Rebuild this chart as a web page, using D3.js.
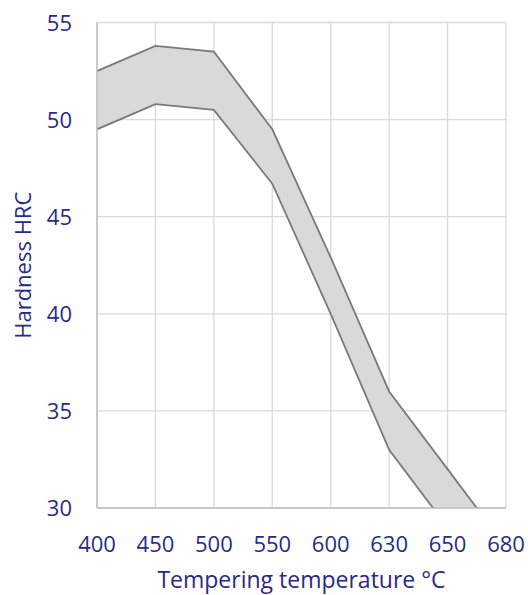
<!DOCTYPE html>
<html><head><meta charset="utf-8">
<script src="https://cdn.jsdelivr.net/npm/d3@7"></script>
<style>body{margin:0;background:#fff}svg{display:block}text{font-family:"Open Sans",sans-serif;fill:#2a2a86}</style>
</head><body>
<svg id="c" width="528" height="595"></svg>
<script>
const categories = ["400","450","500","550","600","630","650","680"];
const upper = [52.5, 53.8, 53.5, 49.5, 42.9, 36.0, 32.0, 28.0];
const lower = [49.5, 50.8, 50.5, 46.7, 40.0, 33.0, 29.0, 25.0];
const yTicks = [30, 35, 40, 45, 50, 55];

const svg = d3.select("#c");
const m = {l:97, r:506, t:22.5, b:508};
const x = d3.scalePoint().domain(categories).range([m.l, m.r]);
const y = d3.scaleLinear().domain([30, 55]).range([m.b, m.t]);

// grid
svg.append("g").selectAll("line").data(yTicks).join("line")
  .attr("x1", m.l).attr("x2", m.r).attr("y1", d=>y(d)).attr("y2", d=>y(d))
  .attr("stroke", "#d9d9d9").attr("stroke-width", 1.3);
svg.append("g").selectAll("line").data(categories).join("line")
  .attr("x1", d=>x(d)).attr("x2", d=>x(d)).attr("y1", m.t).attr("y2", m.b)
  .attr("stroke", "#d9d9d9").attr("stroke-width", 1.3);

svg.append("clipPath").attr("id","clip").append("rect")
  .attr("x", m.l).attr("y", m.t).attr("width", m.r-m.l).attr("height", m.b-m.t);

const data = categories.map((c,i)=>({c, u:upper[i], l:lower[i]}));
const g = svg.append("g").attr("clip-path","url(#clip)");
g.append("path").datum(data)
  .attr("d", d3.area().x(d=>x(d.c)).y0(d=>y(d.l)).y1(d=>y(d.u)))
  .attr("fill", "#d9d9d9");
["u","l"].forEach(k=>{
  g.append("path").datum(data)
    .attr("d", d3.line().x(d=>x(d.c)).y(d=>y(d[k])))
    .attr("fill","none").attr("stroke","#7a7a7a").attr("stroke-width",1.8);
});

// axis lines
svg.append("line").attr("x1", m.l).attr("x2", m.l).attr("y1", m.t).attr("y2", m.b)
  .attr("stroke","#bfbfbf").attr("stroke-width",1.5);
svg.append("line").attr("x1", m.l).attr("x2", m.r).attr("y1", m.b).attr("y2", m.b)
  .attr("stroke","#bfbfbf").attr("stroke-width",1.5);

// tick labels
svg.append("g").selectAll("text").data(yTicks).join("text")
  .attr("x", 72).attr("y", d=>y(d)+8).attr("text-anchor","end")
  .attr("font-size", 22).text(d=>d);
svg.append("g").selectAll("text").data(categories).join("text")
  .attr("x", d=>x(d)).attr("y", 552).attr("text-anchor","middle")
  .attr("font-size", 22).text(d=>d);

svg.append("text").attr("x", (m.l+m.r)/2).attr("y", 588).attr("text-anchor","middle")
  .attr("font-size", 23).text("Tempering temperature °C");
svg.append("text").attr("transform", `translate(31,${(m.t+m.b)/2}) rotate(-90)`)
  .attr("text-anchor","middle").attr("font-size", 22).text("Hardness HRC");
</script>
</body></html>
